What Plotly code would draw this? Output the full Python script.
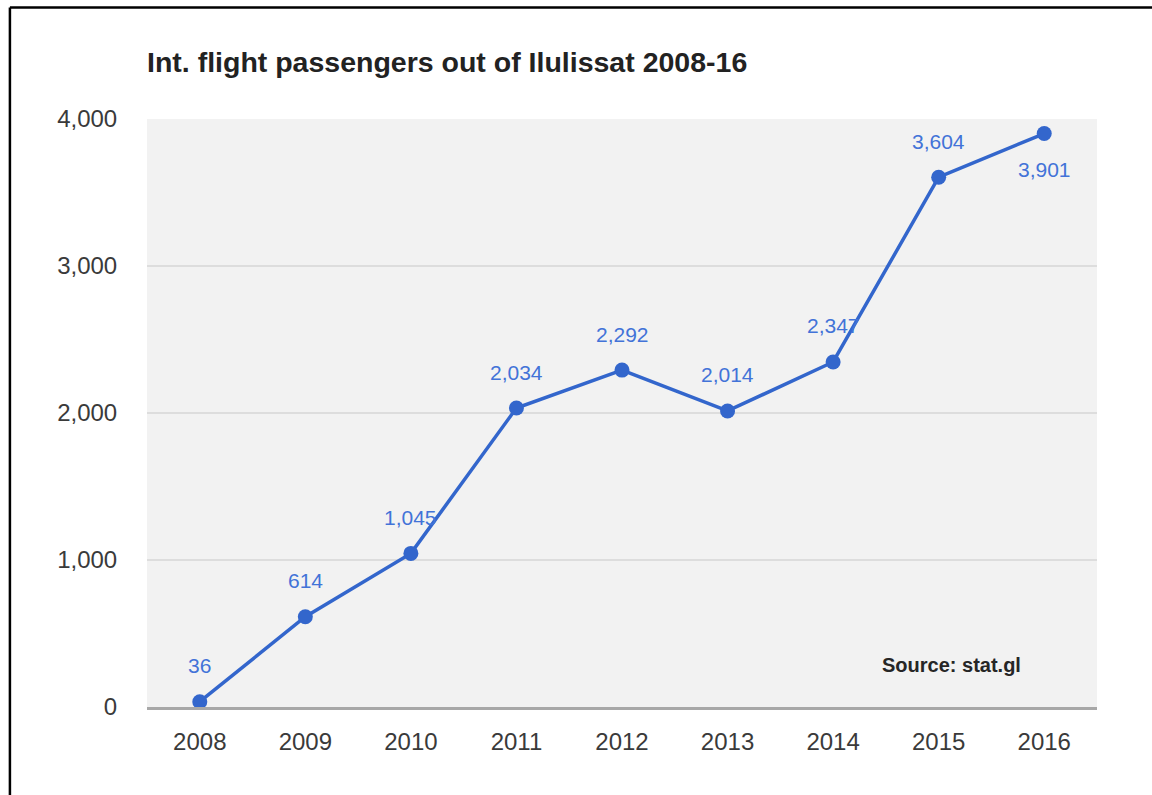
import plotly.graph_objects as go

# Annual international flight passengers departing Ilulissat
years = ["2008", "2009", "2010", "2011", "2012", "2013", "2014", "2015", "2016"]
passengers = [36, 614, 1045, 2034, 2292, 2014, 2347, 3604, 3901]
y_ticks = [0, 1000, 2000, 3000, 4000]
y_tick_labels = ["0", "1,000", "2,000", "3,000", "4,000"]

LINE_BLUE = "#3366cc"
LABEL_BLUE = "#4273d8"
FONT = "Arial, Liberation Sans, Helvetica, sans-serif"

fig = go.Figure()
fig.add_trace(go.Scatter(
    x=years, y=passengers, mode="lines+markers",
    line=dict(color=LINE_BLUE, width=3.5),
    marker=dict(color=LINE_BLUE, size=15),
    hoverinfo="x+y", showlegend=False,
))

# Value labels: above each point, except the last one which sits below it.
# Category index is used for x so numeric-looking year strings are not
# mistaken for linear positions.
for i, v in enumerate(passengers):
    last = i == len(passengers) - 1
    fig.add_annotation(
        x=i, y=v, text=f"{v:,}", showarrow=False,
        xanchor="center", yanchor="middle",
        yshift=-36 if last else 36,
        font=dict(family=FONT, size=21, color=LABEL_BLUE),
    )

fig.add_annotation(
    xref="paper", yref="paper", x=0.847, y=0.0714, text="<b>Source: stat.gl</b>",
    xanchor="center", yanchor="middle",
    showarrow=False, font=dict(family=FONT, size=20, color="#262626"),
)

# Frame lines along the left and top edges
fig.add_shape(type="line", xref="paper", yref="paper", x0=-0.1443, x1=1.1, y0=1.1895, y1=1.1895,
              line=dict(color="black", width=2.5))
fig.add_shape(type="line", xref="paper", yref="paper", x0=-0.1443, x1=-0.1443, y0=-0.2, y1=1.1895,
              line=dict(color="black", width=2.5))

fig.update_layout(
    width=1152, height=795,
    margin=dict(l=147, r=55, t=119, b=88),
    paper_bgcolor="white", plot_bgcolor="#f2f2f2",
    font=dict(family=FONT),
    title=dict(
        text="<b>Int. flight passengers out of Ilulissat 2008-16</b>",
        x=147 / 1152, xanchor="left", y=1 - 62 / 795, yanchor="middle",
        font=dict(family=FONT, size=28.5, color="#222222"),
    ),
    xaxis=dict(
        type="category", range=[-0.5, 8.5],
        showgrid=False, showline=True, linecolor="#a8a8a8", linewidth=3,
        ticks="outside", ticklen=11, tickcolor="rgba(0,0,0,0)",
        tickfont=dict(family=FONT, size=24, color="#3a3a3a"),
    ),
    yaxis=dict(
        range=[0, 4000], tickvals=y_ticks, ticktext=y_tick_labels,
        showgrid=True, gridcolor="#dddddd", gridwidth=2, zeroline=False,
        ticks="outside", ticklen=24, tickcolor="rgba(0,0,0,0)",
        tickfont=dict(family=FONT, size=24, color="#3a3a3a"),
    ),
)

fig.write_html("out.html")
